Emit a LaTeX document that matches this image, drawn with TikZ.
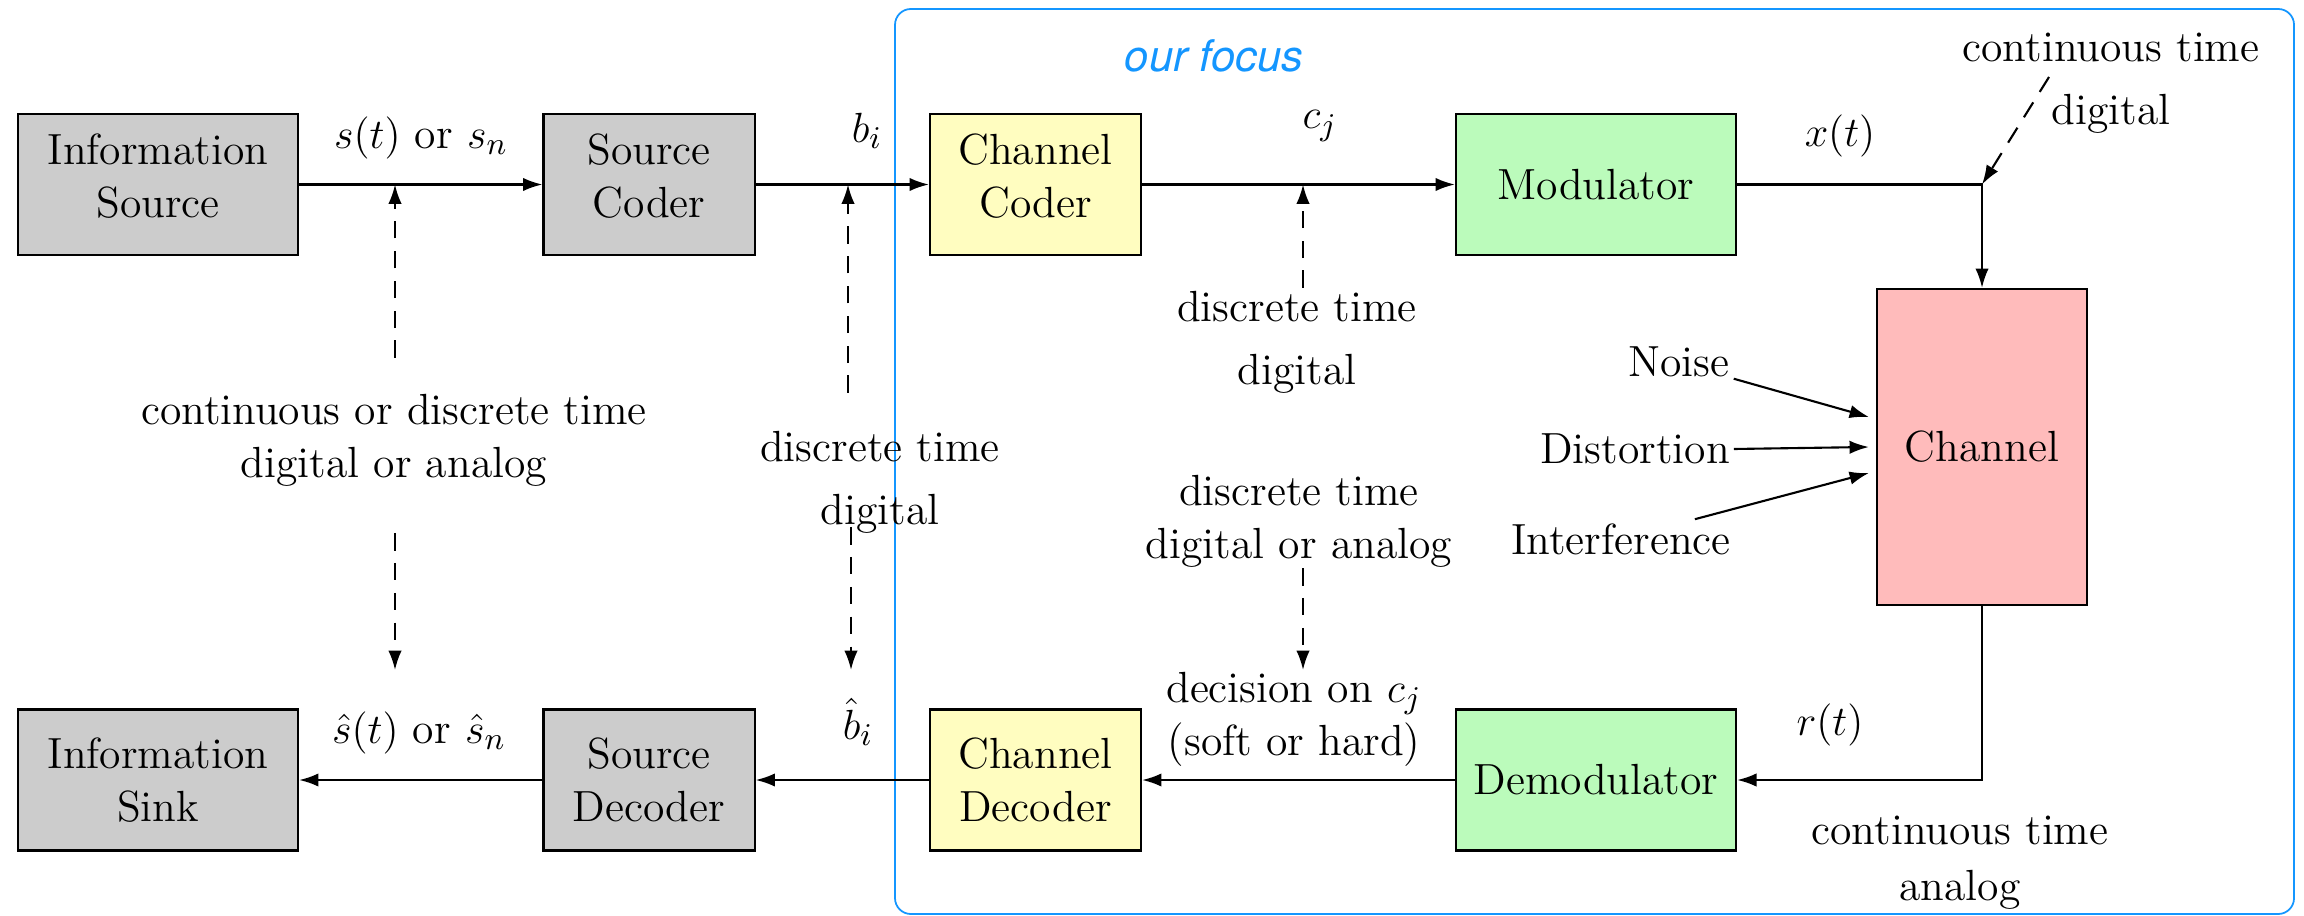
\documentclass[tikz,border=0pt]{standalone}
\usepackage{fontspec}
\newfontfamily\focusfont{TeX Gyre Heros}
\usetikzlibrary{arrows.meta,calc}
\definecolor{boxgray}{RGB}{204,204,204}
\definecolor{boxyellow}{RGB}{255,253,192}
\definecolor{boxgreen}{RGB}{187,251,187}
\definecolor{boxred}{RGB}{255,187,187}
\definecolor{focusblue}{RGB}{20,150,255}
\begin{document}
\begin{tikzpicture}[x=0.01cm,y=-0.01cm, font=\fontsize{12.4}{15}\selectfont,
 blk/.style={draw, line width=0.6pt, inner sep=0pt, align=center},
 wideblk/.style={blk, minimum width=2.8cm, minimum height=1.41cm},
 narrowblk/.style={blk, minimum width=2.11cm, minimum height=1.41cm},
 raised/.style={text depth=5.1pt},
 lowered/.style={execute at begin node={\rule{0pt}{11.6pt}}},
 conn/.style={line width=0.6pt, -{Latex[length=5.5pt,width=3.8pt]}},
 dconn/.style={conn, dash pattern=on 5pt off 3.5pt},
 lbl/.style={inner sep=1pt, align=center}]

\useasboundingbox (0,0) rectangle (2304,916);
\draw[focusblue, line width=0.5pt, rounded corners=4.5pt] (895,9) rectangle (2294,914);
\node[text=focusblue, font=\fontsize{12.4}{14}\focusfont\itshape] (focus) at (1214,56) {our focus};

% blocks
\node[wideblk, raised, fill=boxgray] (is) at (158,184.5) {Information\\Source};
\node[narrowblk, raised, fill=boxgray] (sc) at (649,184.5) {Source\\Coder};
\node[narrowblk, raised, fill=boxyellow] (cc) at (1035.5,184.5) {Channel\\Coder};
\node[wideblk, fill=boxgreen] (mod) at (1596,184.5) {Modulator};
\node[blk, fill=boxred, minimum width=2.1cm, minimum height=3.16cm] (ch) at (1982,447) {Channel};
\node[wideblk, fill=boxgreen] (dem) at (1596,780) {Demodulator};
\node[narrowblk, lowered, fill=boxyellow] (cd) at (1035.5,780) {Channel\\Decoder};
\node[narrowblk, fill=boxgray] (sd) at (649,780) {Source\\Decoder};
\node[wideblk, lowered, fill=boxgray] (sink) at (158,780) {Information\\Sink};

% labels
\node[lbl] (st) at (421,138) {$s(t)$ or $s_n$};
\node[lbl] (bi) at (867,131) {$b_i$};
\node[lbl] (cj) at (1320,126) {$c_j$};
\node[lbl] (xt) at (1840,136) {$x(t)$};
\node[lbl] (ctd) at (2111,83) {continuous time\\[3pt]digital};
\node[lbl] (cdl) at (394,440) {continuous or discrete time\\digital or analog};
\node[lbl] (dtd1) at (880,482) {discrete time\\[3pt]digital};
\node[lbl] (dtd2) at (1297,342) {discrete time\\[3pt]digital};
\node[lbl] (dtda) at (1299,521) {discrete time\\digital or analog};
\node[lbl] (dec) at (1294,719) {decision on $c_j$\\(soft or hard)};
\node[lbl] (rt) at (1830,725) {$r(t)$};
\node[lbl] (cta) at (1960,863) {continuous time\\[1pt]analog};
\node[lbl] (sht) at (419,733) {$\hat{s}(t)$ or $\hat{s}_n$};
\node[lbl] (bh) at (858,722) {$\hat{b}_i$};
\node[lbl] (noise) at (1679,362) {Noise};
\node[lbl] (dist) at (1635,449) {Distortion};
\node[lbl] (intf) at (1621,539) {Interference};

% main connectors
\draw[conn] (is) -- (sc);
\draw[conn] (sc) -- (cc);
\draw[conn] (cc) -- (mod);
\draw[conn] (mod.east) -| (ch.north);
\draw[conn] (ch.south) |- (dem.east);
\draw[conn] (dem) -- (cd);
\draw[conn] (cd) -- (sd);
\draw[conn] (sd) -- (sink);

% dashed annotation arrows
\coordinate (d1s) at (395,358);
\coordinate (d2s) at (395,533);
\coordinate (d2e) at (395,670);
\coordinate (d3s) at (848,393);
\coordinate (d4s) at (851,527);
\coordinate (d4e) at (851,670);
\coordinate (d5s) at (1303,288);
\coordinate (d6s) at (1303,568);
\coordinate (d6e) at (1303,670);
\coordinate (d7s) at (2049,77);
\draw[dconn] (d1s) -- (d1s |- is.east);
\draw[dconn] (d2s) -- (d2e);
\draw[dconn] (d3s) -- (d3s |- sc.east);
\draw[dconn] (d4s) -- (d4e);
\draw[dconn] (d5s) -- (d5s |- cc.east);
\draw[dconn] (d6s) -- (d6e);
\draw[dconn] (d7s) -- (ch.north |- mod.east);

% disturbances
\draw[conn] (noise.-17) -- ($(ch.west)+(-7,-30)$);
\draw[conn] (dist.east) -- ($(ch.west)+(-7,0)$);
\draw[conn] (intf.15) -- ($(ch.west)+(-7,26)$);
\end{tikzpicture}
\end{document}
